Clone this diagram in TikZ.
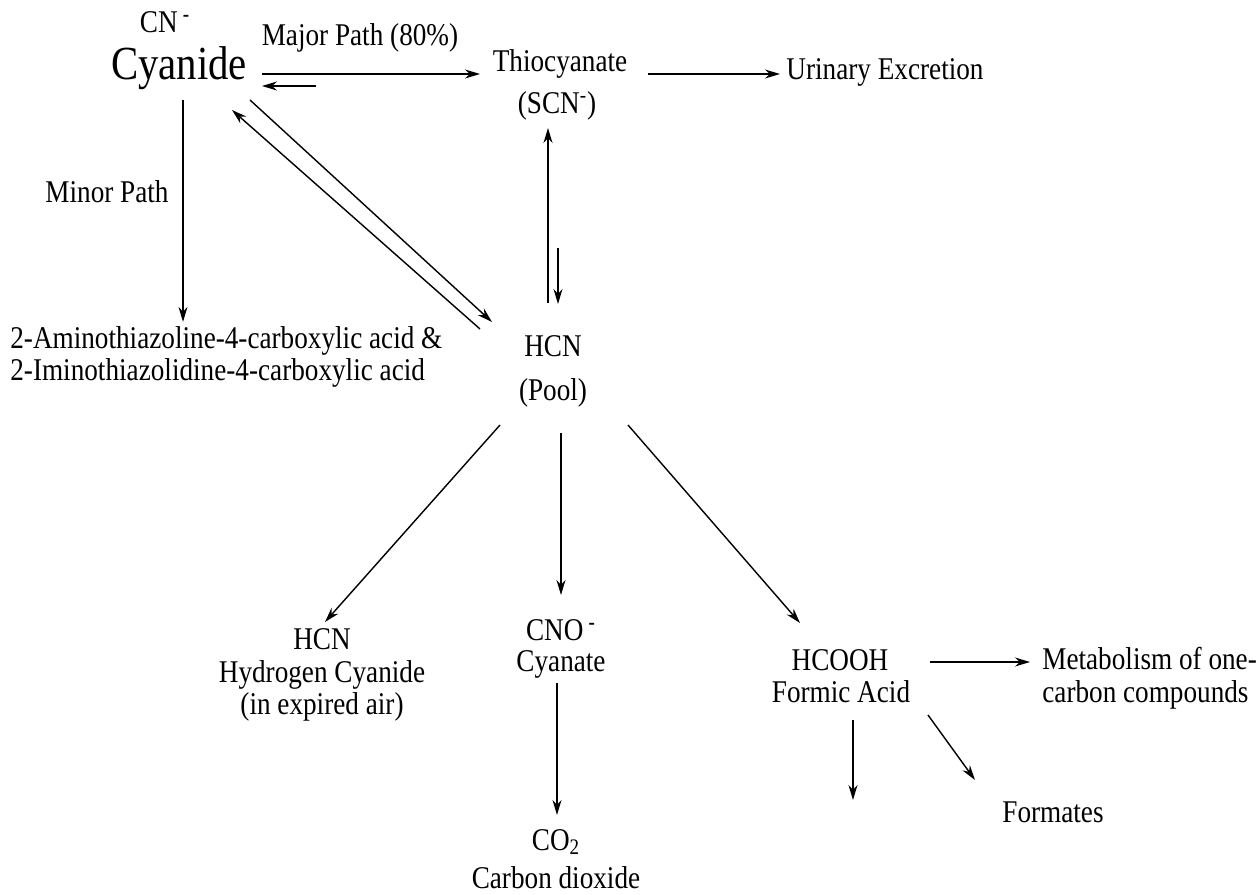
\documentclass[tikz,border=0pt]{standalone}
\usepackage{fontspec}
\setmainfont{Liberation Serif}[FakeStretch=0.86]
\usetikzlibrary{arrows.meta,calc}

\begin{document}
\begin{tikzpicture}[x=0.02cm,y=-0.02cm,
    lbl/.style={inner sep=0pt,font=\fontsize{18}{18.7}\selectfont},
    big/.style={inner sep=0pt,font=\fontsize{27}{30}\selectfont},
    arr/.style={-{Stealth[length=0.3cm,width=0.18cm]},line width=0.8pt}]
    \useasboundingbox (0,0) rectangle (1259,895);
    % Cyanide and the thiocyanate branch
    \node[lbl] (cn) at (165,22) {CN\,\textsuperscript{\textbf{-}}};
    \node[big] (cyanide) at (179,68) {Cyanide};
    \node[lbl] (major) at (360,38) {Major Path (80\%)};
    \node[lbl] (thio) at (560,64) {Thiocyanate};
    \node[lbl] (scn) at (557,106) {(SCN\textsuperscript{-})};
    \node[lbl] (urine) at (885,72) {Urinary Excretion};
    \node[lbl] (minor) at (107,192) {Minor Path};
    \node[lbl,anchor=west,align=left] (thz) at (10,357)
        {2-Aminothiazoline-4-carboxylic acid \&\\2-Iminothiazolidine-4-carboxylic acid};
    % The pool
    \node[lbl] (hcn) at (553,346) {HCN};
    \node[lbl] (pool) at (553,393) {(Pool)};
    % Products of the pool
    \node[lbl,align=center] (hcnair) at (322,675) {HCN\\Hydrogen Cyanide\\(in expired air)};
    \node[lbl] (cno) at (561,630) {CNO\,\textsuperscript{\textbf{-}}};
    \node[lbl] (cyanate) at (561,664) {Cyanate};
    \node[lbl] (co2) at (556,842) {CO\textsubscript{2}};
    \node[lbl] (carbon) at (556,878) {Carbon dioxide};
    \node[lbl] (hcooh) at (840,660) {HCOOH};
    \node[lbl] (formic) at (841,692) {Formic Acid};
    \node[lbl,anchor=west,align=left] (meta) at (1042,678) {Metabolism of one-\\carbon compounds};
    \node[lbl] (formates) at (1053,812) {Formates};
    \coordinate (sink) at (853,800);

    % Connectors
    \draw[arr] ($(cyanide)+(83,6)$) -- ($(thio)+(-80,10)$);
    \draw[arr] ($(cyanide)+(137,18)$) -- ($(cyanide)+(83,18)$);
    \draw[arr] ($(thio)+(88,10)$) -- ($(urine)+(-105,2)$);
    \draw[arr] ($(cyanide)+(4,32)$) -- ($(thz.north west)+(173,-4)$);
    \draw[arr] ($(cyanide)+(71,32)$) -- ($(hcn)+(-61,-24)$);
    \draw[arr] ($(hcn)+(-73,-17)$) -- ($(cyanide)+(53,42)$);
    \draw[arr] ($(hcn)+(-5,-43)$) -- ($(scn)+(-9,22)$);
    \draw[arr] ($(scn)+(1,142)$) -- ($(hcn)+(5,-42)$);
    \draw[arr] ($(pool)+(-53,32)$) -- ($(hcnair)+(3,-53)$);
    \draw[arr] ($(pool)+(8,40)$) -- ($(cno)+(0,-35)$);
    \draw[arr] ($(pool)+(75,32)$) -- ($(hcooh)+(-40,-37)$);
    \draw[arr] ($(cyanate)+(-4,19)$) -- ($(co2)+(1,-27)$);
    \draw[arr] ($(hcooh)+(90,2)$) -- ($(meta.west)+(-12,-16)$);
    \draw[arr] ($(formic)+(12,28)$) -- (sink);
    \draw[arr] ($(formic)+(87,23)$) -- ($(formates)+(-78,-32)$);
\end{tikzpicture}
\end{document}
